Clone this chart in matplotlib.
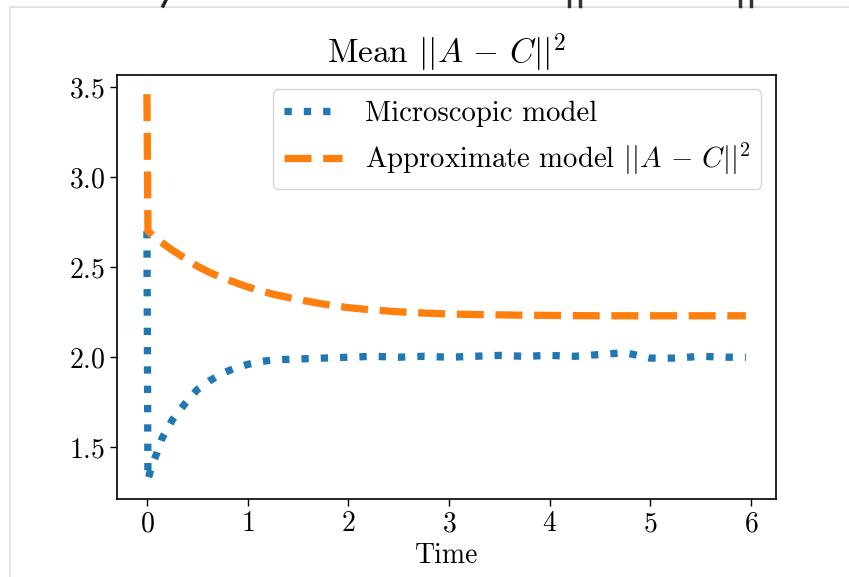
import matplotlib
matplotlib.use("Agg")
import matplotlib.pyplot as plt
from matplotlib.lines import Line2D

plt.rcParams["font.family"] = "serif"
plt.rcParams["font.serif"] = ["cmr10", "DejaVu Serif"]
plt.rcParams["mathtext.fontset"] = "cm"
plt.rcParams["axes.formatter.use_mathtext"] = True

# Values
time = [0, 0.01, 0.05, 0.1, 0.15, 0.25, 0.375, 0.5, 0.625, 0.75, 0.875, 1.0,
        1.125, 1.25, 1.5, 1.75, 2.0, 2.25, 2.5, 2.75, 3.0, 3.25, 3.5, 3.75,
        4.0, 4.25, 4.5, 4.75, 5.0, 5.25, 5.5, 5.75, 5.95]
micro = [2.70, 1.32, 1.40, 1.47, 1.55, 1.65, 1.74, 1.82, 1.87, 1.91, 1.94, 1.96,
         1.975, 1.985, 1.99, 1.995, 2.00, 2.005, 2.00, 2.005, 2.00, 2.005, 2.01, 2.005,
         2.01, 2.005, 2.015, 2.025, 1.995, 1.995, 2.005, 2.00, 2.00]
approx = [3.46, 2.70, 2.68, 2.655, 2.635, 2.595, 2.55, 2.505, 2.47, 2.44, 2.415, 2.39,
          2.37, 2.35, 2.32, 2.295, 2.275, 2.262, 2.252, 2.245, 2.24, 2.237, 2.235, 2.233,
          2.232, 2.231, 2.23, 2.23, 2.23, 2.23, 2.23, 2.23, 2.23]

fs = 20
fig = plt.figure(figsize=(8.49, 5.77), dpi=100)
ax = fig.add_axes([0.1378, 0.1352, 0.776, 0.735])

ax.plot(time, micro, linestyle=":", linewidth=5.25, color="#1f77b4", label="Microscopic model")
ax.plot(time, approx, linestyle="--", linewidth=5.25, color="#ff7f0e",
        label=r"Approximate model $||A\,-\,C||^2$")

ax.set_title(r"Mean $||A\,-\,C||^2$", fontsize=24, pad=8)
ax.set_xlabel("Time", fontsize=fs)
ax.set_xticks([0, 1, 2, 3, 4, 5, 6])
ax.set_yticks([1.5, 2.0, 2.5, 3.0, 3.5])
ax.tick_params(labelsize=fs, length=5, width=1)
for s in ax.spines.values():
    s.set_linewidth(1.2)
ax.legend(loc="upper right", fontsize=20.7)

# notebook cell frame and clipped text of the cell above
W, H = 849, 577
fig.add_artist(Line2D([10 / W, 10 / W], [0, 1 - 7 / H], color="#dddddd", lw=1.2))
fig.add_artist(Line2D([10 / W, 1], [1 - 7 / H, 1 - 7 / H], color="#dddddd", lw=1.2))
fig.add_artist(Line2D([163 / W, 166 / W], [1 - 6 / H, 1], color="#222222", lw=2.5))
for x in [569, 580, 740, 751]:
    fig.add_artist(Line2D([x / W, x / W], [1 - 6 / H, 1], color="#333333", lw=2.5))

fig.savefig("out.png", dpi=100)
